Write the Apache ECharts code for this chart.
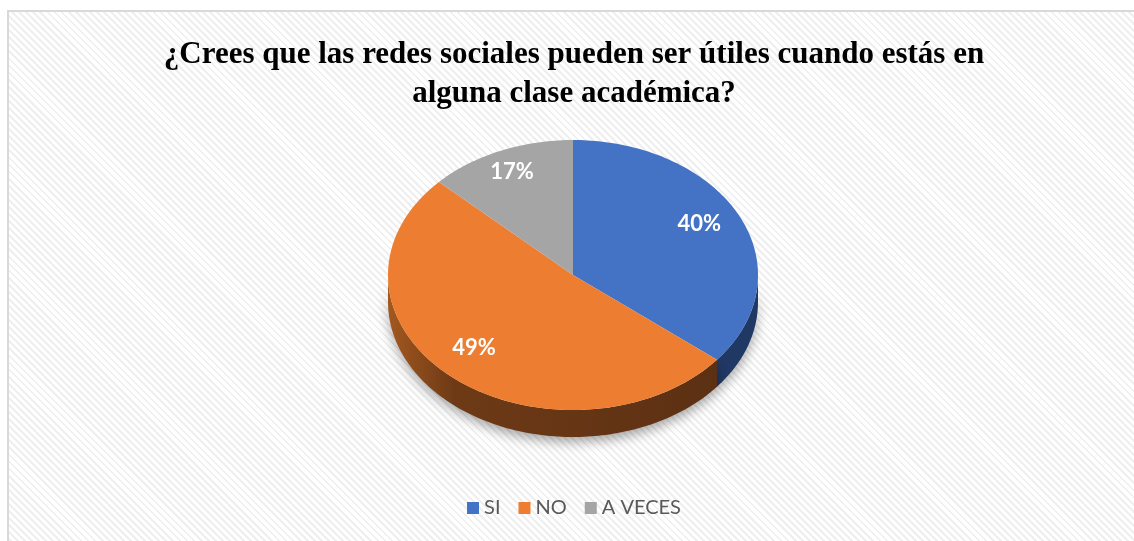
<!DOCTYPE html>
<html>
<head>
<meta charset="utf-8">
<script src="https://cdn.jsdelivr.net/npm/echarts@6/dist/echarts.min.js"></script>
<style>
html, body { margin: 0; padding: 0; width: 1134px; height: 541px; overflow: hidden; background: #fff; }
#frame {
  position: absolute; left: 7px; top: 10px; width: 1140px; height: 540px;
  border-left: 2px solid #d9d9d9; border-top: 2px solid #d9d9d9;
  background: repeating-linear-gradient(45deg, #ffffff 0 3px, #efefef 3px 5px);
}
#chart { position: absolute; left: 7px; top: 10px; width: 1134px; height: 531px; }
</style>
</head>
<body>
<div id="frame"></div>
<div id="chart"></div>
<script>
// categorias y valores
const categories = ['SI', 'NO', 'A VECES']
const percentLabels = [40, 49, 17]
// tamaño de cada porción tal como se ve en la imagen (%)
const sliceShares = [35.8, 51.3, 12.9]

const topColors = ['#4472c4', '#ed7d31', '#a5a5a5']
const sideColors = [
  '#203864',
  { type: 'linear', x: 0, y: 0, x2: 1, y2: 0, colorStops: [
    { offset: 0, color: '#a3581f' }, { offset: 0.2, color: '#6e3a16' }, { offset: 1, color: '#5c3013' },
  ] },
  '#636363',
]

const total = sliceShares.reduce((a, b) => a + b, 0)

// geometria del pastel inclinado
const pie = { cx: 566, cy: 265, rx: 185, ry: 135, depth: 27 }

function pt(theta, dy) {
  return [pie.cx + pie.rx * Math.sin(theta), pie.cy - pie.ry * Math.cos(theta) + (dy || 0)]
}

function arc(a0, a1, dy) {
  const pts = []
  const n = Math.max(2, Math.ceil((a1 - a0) / 0.02))
  for (let i = 0; i <= n; i++) pts.push(pt(a0 + (a1 - a0) * i / n, dy))
  return pts
}

function renderSlice(params, api) {
  const idx = params.seriesIndex
  let before = 0
  for (let i = 0; i < idx; i++) before += sliceShares[i]
  const share = api.value(0)
  const a0 = before / total * Math.PI * 2
  const a1 = (before + share) / total * Math.PI * 2
  const children = []

  // lado visible (mitad frontal)
  const s0 = Math.max(a0, Math.PI / 2)
  const s1 = Math.min(a1, Math.PI * 1.5)
  if (s1 > s0) {
    const front = arc(s0, s1, 0)
    const back = arc(s0, s1, pie.depth).reverse()
    children.push({
      type: 'polygon',
      z2: 1,
      shape: { points: front.concat(back) },
      style: {
        fill: sideColors[idx],
        shadowBlur: 12,
        shadowColor: 'rgba(0,0,0,0.35)',
        shadowOffsetY: 5,
      },
    })
  }

  // cara superior
  children.push({
    type: 'polygon',
    z2: 2,
    shape: { points: [[pie.cx, pie.cy]].concat(arc(a0, a1, 0)) },
    style: { fill: topColors[idx] },
  })

  // etiqueta
  const mid = (a0 + a1) / 2
  const lp = [pie.cx + pie.rx * 0.78 * Math.sin(mid), pie.cy - pie.ry * 0.78 * Math.cos(mid)]
  children.push({
    type: 'text',
    z2: 3,
    x: lp[0] - 4,
    y: lp[1] - 6,
    style: {
      text: api.value(1) + '%',
      fill: '#ffffff',
      font: 'bold 22px Lato',
      align: 'center',
      verticalAlign: 'middle',
    },
  })

  return { type: 'group', children }
}

const chart = echarts.init(document.getElementById('chart'), null, { renderer: 'canvas' })

chart.setOption({
  animation: false,
  title: {
    text: '¿Crees que las redes sociales pueden ser útiles cuando estás en\nalguna clase académica?',
    left: 'center',
    top: 20,
    textStyle: {
      fontFamily: 'Liberation Serif, Times New Roman, serif',
      fontWeight: 'bold',
      fontSize: 31,
      lineHeight: 39,
      color: '#000000',
    },
  },
  legend: {
    data: categories,
    bottom: 18,
    left: 'center',
    icon: 'rect',
    itemWidth: 12,
    itemHeight: 12,
    itemGap: 18,
    textStyle: { fontFamily: 'Lato', fontSize: 20, color: '#595959' },
  },
  series: categories.map((name, i) => ({
    name,
    type: 'custom',
    coordinateSystem: 'none',
    itemStyle: { color: topColors[i] },
    renderItem: renderSlice,
    data: [[sliceShares[i], percentLabels[i]]],
  })),
})
</script>
</body>
</html>
